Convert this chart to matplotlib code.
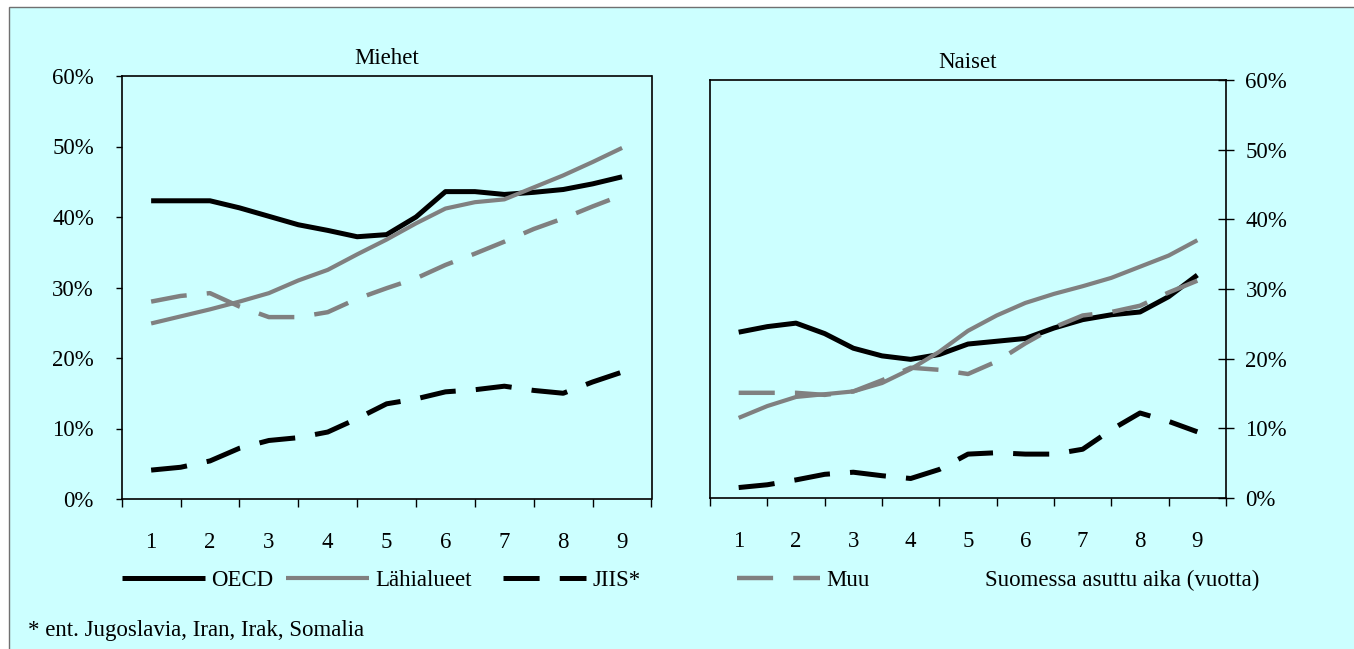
import numpy as np
import matplotlib
matplotlib.use("Agg")
import matplotlib.pyplot as plt
from matplotlib.patches import Rectangle
from matplotlib.ticker import FixedLocator, FuncFormatter

plt.rcParams['font.family'] = ['Liberation Serif', 'DejaVu Serif']
plt.rcParams['lines.scale_dashes'] = False

# years in Finland, half-year steps
years = np.arange(1, 9.01, 0.5)
year_labels = ['1', '2', '3', '4', '5', '6', '7', '8', '9']

# Miehet (men), share in %
men_oecd = [42.3, 42.3, 42.3, 41.3, 40.1, 38.9, 38.1, 37.2, 37.5,
            40.0, 43.6, 43.6, 43.2, 43.5, 43.9, 44.7, 45.7]
men_lahi = [24.9, 25.9, 26.9, 28.0, 29.2, 31.0, 32.5, 34.7, 36.8,
            39.1, 41.2, 42.1, 42.5, 44.2, 45.9, 47.8, 49.8]
men_jiis = [4.1, 4.5, 5.4, 7.2, 8.3, 8.7, 9.5, 11.4, 13.5,
            14.2, 15.2, 15.5, 16.0, 15.4, 15.0, 16.6, 18.0]
men_muu = [28.0, 28.8, 29.2, 27.3, 25.8, 25.8, 26.5, 28.4, 29.9,
           31.3, 33.2, 34.8, 36.5, 38.3, 39.8, 41.5, 43.1]

# Naiset (women), share in %
women_oecd = [23.8, 24.6, 25.1, 23.6, 21.5, 20.4, 19.9, 20.6, 22.1,
              22.5, 22.9, 24.4, 25.6, 26.3, 26.7, 28.9, 32.0]
women_lahi = [11.5, 13.2, 14.5, 14.9, 15.3, 16.5, 18.5, 21.0, 24.0,
              26.2, 28.0, 29.3, 30.4, 31.6, 33.2, 34.8, 37.0]
women_jiis = [1.5, 1.9, 2.6, 3.4, 3.7, 3.2, 2.8, 4.1, 6.3,
              6.5, 6.3, 6.3, 7.0, 9.8, 12.2, 11.0, 9.5]
women_muu = [15.1, 15.1, 15.1, 14.8, 15.3, 16.9, 18.7, 18.4, 17.8,
             19.6, 22.2, 24.5, 26.2, 26.7, 27.6, 29.5, 31.2]

bg = '#CCFFFF'
grey = '#808080'
dash = (0, (26, 14.5))
fs = 16.5

fig = plt.figure(figsize=(13.54, 6.49), dpi=100, facecolor='white')
fig.add_artist(Rectangle((9 / 1354, -0.01), 1.0, 1 - 7 / 649 + 0.01,
                         transform=fig.transFigure, facecolor=bg,
                         edgecolor='#707070', lw=1.0, zorder=-10))

ax1 = fig.add_axes([121.7 / 1354, 1 - 499 / 649, 529.8 / 1354, 423 / 649])
ax2 = fig.add_axes([710 / 1354, 1 - 498 / 649, 516 / 1354, 418 / 649])


def draw(ax, oecd, lahi, jiis, muu):
    ax.set_facecolor(bg)
    ax.plot(years, oecd, color='black', lw=3.6, solid_capstyle='butt', label='OECD')
    ax.plot(years, lahi, color=grey, lw=3.0, solid_capstyle='butt', label='Lähialueet')
    ax.plot(years, jiis, color='black', lw=3.6, ls=dash, dash_capstyle='butt', label='JIIS*')
    ax.plot(years, muu, color=grey, lw=3.2, ls=dash, dash_capstyle='butt', label='Muu')
    ax.set_xlim(0.5, 9.5)
    ax.set_ylim(0, 60)
    ax.set_yticks(np.arange(0, 61, 10))
    ax.yaxis.set_major_formatter(FuncFormatter(lambda v, p: f'{v:.0f}%'))
    ax.xaxis.set_major_locator(FixedLocator(np.arange(0.5, 9.6, 1)))
    ax.xaxis.set_minor_locator(FixedLocator(np.arange(1, 10)))
    ax.set_xticklabels([], minor=False)
    ax.set_xticklabels(year_labels, minor=True)
    ax.tick_params(axis='x', which='major', direction='out', length=5.5, width=1, color='black')
    ax.tick_params(axis='x', which='minor', length=0, pad=24, labelsize=fs)
    for s in ax.spines.values():
        s.set_linewidth(1.2)


draw(ax1, men_oecd, men_lahi, men_jiis, men_muu)
draw(ax2, women_oecd, women_lahi, women_jiis, women_muu)

ax1.tick_params(axis='y', direction='out', length=4.5, width=1, pad=15.5, labelsize=fs)
ax2.yaxis.tick_right()
ax2.tick_params(axis='y', direction='inout', length=11, width=1, pad=8.5, labelsize=fs)

ax1.set_title('Miehet', fontsize=fs, pad=9)
ax2.set_title('Naiset', fontsize=fs, pad=9)

# one legend per entry so each sits where it does in the original
h, l = ax1.get_legend_handles_labels()
leg_x = [122, 286, 503, 737]
for hi, li, xi in zip(h, l, leg_x):
    fig.legend([hi], [li], frameon=False, fontsize=fs, handlelength=3.6,
               handletextpad=0.3, borderpad=0, borderaxespad=0, loc='center left',
               bbox_to_anchor=(xi / 1354, 1 - 580 / 649))

fig.text(985 / 1354, 1 - 580 / 649, 'Suomessa asuttu aika (vuotta)', fontsize=fs,
         va='center', ha='left')
fig.text(28 / 1354, 1 - 636 / 649, '* ent. Jugoslavia, Iran, Irak, Somalia', fontsize=fs,
         va='baseline', ha='left')

fig.savefig('out.png', dpi=100, facecolor=fig.get_facecolor())
